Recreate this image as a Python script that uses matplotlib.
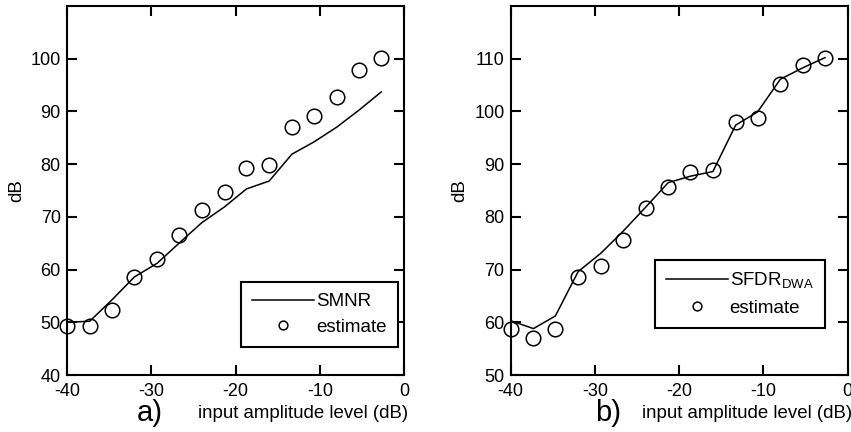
import numpy as np
import matplotlib
matplotlib.use("Agg")
import matplotlib.pyplot as plt


# ============================================
# Data
# ============================================

amplitude = [-40.0, -37.3, -34.7, -32.0, -29.3, -26.7, -24.0, -21.3,
             -18.7, -16.0, -13.3, -10.7, -8.0, -5.3, -2.7]

smnr = [50.0, 50.2, 54.2, 58.6, 61.2, 65.0, 68.9, 71.9,
        75.3, 76.8, 81.9, 84.2, 87.0, 90.3, 93.7]
smnr_estimate = [49.3, 49.3, 52.3, 58.5, 62.1, 66.5, 71.3, 74.7,
                 79.3, 79.8, 87.0, 89.2, 92.8, 97.8, 100.2]

sfdr = [60.3, 58.8, 61.2, 69.6, 73.1, 77.2, 81.8, 86.5,
        87.7, 88.6, 97.4, 99.9, 106.1, 108.3, 110.2]
sfdr_estimate = [58.7, 57.1, 58.7, 68.5, 70.7, 75.7, 81.6, 85.7,
                 88.6, 88.9, 97.9, 98.7, 105.2, 108.9, 110.2]

x_ticks = [-40, -30, -20, -10, 0]
y_ticks_a = [40, 50, 60, 70, 80, 90, 100]
y_ticks_b = [50, 60, 70, 80, 90, 100, 110]


# ============================================
# Style
# ============================================

plt.rcParams["font.family"] = ["Liberation Sans", "DejaVu Sans"]
plt.rcParams["mathtext.fontset"] = "custom"
plt.rcParams["mathtext.rm"] = "Liberation Sans"
plt.rcParams["axes.linewidth"] = 1.5
plt.rcParams["axes.unicode_minus"] = False

W, H = 851, 432
fig = plt.figure(figsize=(W / 100, H / 100), dpi=100)


def make_panel(left_px, ylim, yticks, line, est, line_label,
               legend_anchor, tag, tag_x):
    ax = fig.add_axes([left_px / W, 57 / H, 337 / W, 369 / H])

    ax.plot(amplitude, line, color="black", lw=1.1, label=line_label)
    ax.plot(amplitude, est, "o", mfc="none", mec="black", mew=1.1,
            ms=10.5, label="estimate", clip_on=False)

    ax.set_xlim(-40, 0)
    ax.set_ylim(*ylim)
    ax.set_xticks(x_ticks)
    ax.set_yticks(yticks)

    ax.tick_params(direction="in", length=7.5, width=1.5,
                   top=True, right=True, labelsize=13)
    ax.tick_params(axis="x", pad=5.5)
    ax.tick_params(axis="y", pad=4.5)

    ax.set_ylabel("dB", fontsize=13.5)
    ax.yaxis.set_label_coords(-0.125, 0.5)

    ax.text(1.012, -0.103, "input amplitude level (dB)", fontsize=13.4,
            ha="right", va="center", transform=ax.transAxes)
    ax.text(tag_x, -0.103, tag, fontsize=21, ha="center", va="center",
            transform=ax.transAxes)

    leg = ax.legend(loc="lower right", bbox_to_anchor=legend_anchor,
                    borderaxespad=0, fontsize=13.5, handlelength=3.3,
                    handletextpad=0.1, markerscale=0.6, fancybox=False,
                    framealpha=1, edgecolor="black", labelspacing=0.45,
                    borderpad=0.6)
    leg.get_frame().set_linewidth(1.5)
    return ax


make_panel(67, (40, 110), y_ticks_a, smnr, smnr_estimate, "SMNR",
           (0.982, 0.076), "a)", 0.246)
make_panel(510.7, (50, 120), y_ticks_b, sfdr, sfdr_estimate,
           r"SFDR$_{\mathrm{DWA}}$", (0.932, 0.127), "b)", 0.289)

fig.savefig("out.png", dpi=100)
